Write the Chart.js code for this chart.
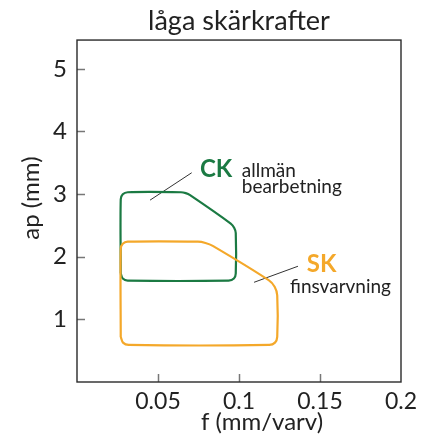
<!DOCTYPE html>
<html>
<head>
<meta charset="utf-8">
<style>
  html, body { margin: 0; padding: 0; background: #fff; }
</style>
<script src="https://cdn.jsdelivr.net/npm/chart.js@4/dist/chart.umd.min.js"></script>
</head>
<body>
<canvas id="grafik" width="440" height="443"></canvas>
<script>
const titel = 'låga skärkrafter';
const xTitel = 'f (mm/varv)';
const yTitel = 'ap (mm)';
const xTicks = [0.05, 0.1, 0.15, 0.2];
const yTicks = [1, 2, 3, 4, 5];

// CK-området (allmän bearbetning), konturpunkter
const ckX = [0.027, 0.027, 0.02825, 0.0313, 0.0642, 0.0671, 0.0698, 0.0949, 0.0970, 0.0980, 0.0980, 0.09685, 0.0936, 0.0313, 0.02825, 0.027];
const ckY = [1.732, 2.918, 2.998, 3.03, 3.03, 3.016, 2.984, 2.530, 2.462, 2.379, 1.732, 1.652, 1.62, 1.62, 1.652, 1.732];

// SK-området (finsvarvning)
const skX = [0.027, 0.027, 0.02825, 0.0313, 0.0746, 0.0793, 0.0838, 0.1183, 0.1220, 0.1236, 0.1236, 0.1222, 0.1187, 0.0319, 0.0284, 0.027];
const skY = [0.72, 2.128, 2.208, 2.24, 2.24, 2.219, 2.173, 1.626, 1.520, 1.382, 0.72, 0.629, 0.592, 0.592, 0.629, 0.72];

// hänvisningslinjer
const ckLinjeX = [0.0451, 0.0708];
const ckLinjeY = [2.904, 3.341];
const skLinjeX = [0.1093, 0.1364];
const skLinjeY = [1.592, 1.848];

const GRON = '#1b7a43';
const ORANGE = '#f4a82a';
const TEXT = '#222';
const FONT = 'Lato';

const etiketter = [
  { text: 'CK', x: 0.0759, y: 3.277, color: GRON, size: 24, weight: 'bold' },
  { text: 'allmän', x: 0.1017, y: 3.277, color: TEXT, size: 19, weight: 'normal' },
  { text: 'bearbetning', x: 0.1017, y: 3.021, color: TEXT, size: 19, weight: 'normal' },
  { text: 'SK', x: 0.1418, y: 1.757, color: ORANGE, size: 24, weight: 'bold' },
  { text: 'finsvarvning', x: 0.1315, y: 1.421, color: TEXT, size: 19, weight: 'normal' }
];

function punkter(xs, ys) {
  return xs.map((x, i) => ({ x: x, y: ys[i] }));
}

const ram = {
  id: 'ram',
  afterDatasetsDraw(chart) {
    const { ctx, chartArea: a, scales: { x, y } } = chart;
    ctx.save();

    // korta streck inåt
    ctx.strokeStyle = '#777';
    ctx.lineWidth = 1.5;
    ctx.beginPath();
    xTicks.filter(v => v < 0.2).forEach(v => {
      const px = Math.round(x.getPixelForValue(v)) + 0.5;
      ctx.moveTo(px, a.bottom);
      ctx.lineTo(px, a.bottom - 8);
    });
    yTicks.forEach(v => {
      const py = Math.round(y.getPixelForValue(v)) + 0.5;
      ctx.moveTo(a.left, py);
      ctx.lineTo(a.left + 8, py);
    });
    ctx.stroke();

    ctx.strokeStyle = '#2a2a2a';
    ctx.lineWidth = 1.4;
    ctx.strokeRect(a.left, a.top, a.right - a.left, a.bottom - a.top);

    ctx.textBaseline = 'alphabetic';
    ctx.textAlign = 'left';
    etiketter.forEach(e => {
      ctx.font = `${e.weight} ${e.size}px ${FONT}`;
      ctx.fillStyle = e.color;
      ctx.fillText(e.text, x.getPixelForValue(e.x), y.getPixelForValue(e.y));
    });

    // axeltitlar
    ctx.fillStyle = TEXT;
    ctx.font = `24px ${FONT}`;
    ctx.textAlign = 'center';
    ctx.textBaseline = 'middle';
    ctx.fillText(xTitel, (a.left + a.right) / 2 + 23, a.bottom + 40);
    ctx.translate(31, a.top + 158);
    ctx.rotate(-Math.PI / 2);
    ctx.fillText(yTitel, 0, 0);

    ctx.restore();
  }
};

new Chart(document.getElementById('grafik'), {
  type: 'scatter',
  data: {
    datasets: [
      { label: 'SK', data: punkter(skX, skY), borderColor: ORANGE, borderWidth: 2.2, tension: 0.3 },
      { label: 'CK', data: punkter(ckX, ckY), borderColor: GRON, borderWidth: 2.2, tension: 0.3 },
      { label: 'ck-linje', data: punkter(ckLinjeX, ckLinjeY), borderColor: '#333', borderWidth: 1, tension: 0 },
      { label: 'sk-linje', data: punkter(skLinjeX, skLinjeY), borderColor: '#333', borderWidth: 1, tension: 0 }
    ].map(d => Object.assign(d, { showLine: true, pointRadius: 0, fill: false }))
  },
  options: {
    responsive: false,
    animation: false,
    layout: { padding: { left: 0, right: 39, top: 0, bottom: 0 } },
    plugins: {
      legend: { display: false },
      tooltip: { enabled: false },
      title: {
        display: true,
        text: titel,
        fullSize: false,
        color: TEXT,
        font: { family: FONT, size: 27, weight: 'normal', lineHeight: 1.15 },
        padding: { top: 6, bottom: 3 }
      }
    },
    scales: {
      x: {
        type: 'linear',
        min: 0,
        max: 0.2,
        afterBuildTicks: s => { s.ticks = xTicks.map(v => ({ value: v })); },
        afterFit: s => { s.height = 61; },
        grid: { display: false, drawTicks: false },
        border: { display: false },
        ticks: {
          color: TEXT,
          padding: 6,
          maxRotation: 0,
          font: { family: FONT, size: 23 },
          callback: v => String(v)
        }
      },
      y: {
        type: 'linear',
        min: 0,
        max: 5.46,
        afterBuildTicks: s => { s.ticks = yTicks.map(v => ({ value: v })); },
        afterFit: s => { s.width = 77; },
        grid: { display: false, drawTicks: false },
        border: { display: false },
        ticks: {
          color: TEXT,
          padding: 10,
          font: { family: FONT, size: 24 },
          callback: v => String(v)
        }
      }
    }
  },
  plugins: [ram]
});
</script>
</body>
</html>
